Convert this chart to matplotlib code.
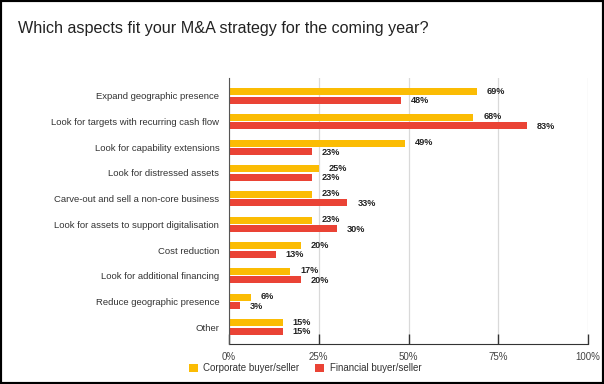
import numpy as np
import matplotlib
matplotlib.use("Agg")
import matplotlib.pyplot as plt
from matplotlib.patches import Rectangle

plt.rcParams['font.family'] = ['Liberation Sans', 'DejaVu Sans']

##### DATA #####
categories = ['Expand geographic presence',
              'Look for targets with recurring cash flow',
              'Look for capability extensions',
              'Look for distressed assets',
              'Carve-out and sell a non-core business',
              'Look for assets to support digitalisation',
              'Cost reduction',
              'Look for additional financing',
              'Reduce geographic presence',
              'Other']
corporate = [69, 68, 49, 25, 23, 23, 20, 17, 6, 15]
financial = [48, 83, 23, 23, 33, 30, 13, 20, 3, 15]
series_names = ['Corporate buyer/seller', 'Financial buyer/seller']
xticks = [0, 25, 50, 75, 100]
xtick_labels = ['0%', '25%', '50%', '75%', '100%']

title = 'Which aspects fit your M&A strategy for the coming year?'

##### PLOT #####
yellow = '#FBBC04'
red = '#EA4335'

fig = plt.figure(figsize=(6.04, 3.84), dpi=100)
ax = fig.add_axes([229 / 604, 1 - 344 / 384, (588 - 229) / 604, (344 - 78) / 384])

y = np.arange(len(categories))
h = 0.27
off = 0.165
ax.barh(y - off, corporate, height=h, color=yellow, label=series_names[0], zorder=3)
ax.barh(y + off, financial, height=h, color=red, label=series_names[1], zorder=3)

# value labels
for i in range(len(categories)):
    ax.text(corporate[i] + 2.8, y[i] - off - 0.02, f"{corporate[i]}%", va='center', ha='left',
            fontsize=6.6, fontweight='bold', color='#222222')
    ax.text(financial[i] + 2.8, y[i] + off + 0.02, f"{financial[i]}%", va='center', ha='left',
            fontsize=6.6, fontweight='bold', color='#222222')

ax.set_xlim(0, 100)
ax.set_ylim(9.66, -0.70)
ax.set_yticks(y)
ax.set_yticklabels(categories, fontsize=6.8, color='#333333')
ax.set_xticks(xticks)
ax.set_xticklabels(xtick_labels, fontsize=7, color='#444444')
ax.tick_params(axis='y', length=0, pad=7)
ax.tick_params(axis='x', direction='in', length=7, width=1, color='#333333', pad=6)

ax.grid(axis='x', color='#d9d9d9', linewidth=0.9, zorder=0)
for s in ['top', 'right']:
    ax.spines[s].set_visible(False)
ax.spines['left'].set_color('#555555')
ax.spines['bottom'].set_color('#333333')
ax.spines['left'].set_zorder(4)

fig.text(18 / 604, 1 - 28 / 384, title, fontsize=11.6, color='#222222', va='center', ha='left')

leg = fig.legend(loc='center', bbox_to_anchor=(305 / 604, 1 - 368 / 384), ncol=2, frameon=False,
                 fontsize=7, handlelength=0.9, handleheight=0.9, handletextpad=0.6,
                 columnspacing=1.6)
for t in leg.get_texts():
    t.set_color('#333333')

# outer border
fig.patches.append(Rectangle((0, 0), 1, 1, transform=fig.transFigure, fill=False,
                             edgecolor='black', linewidth=3, zorder=10))

fig.savefig('out.png', dpi=100)
